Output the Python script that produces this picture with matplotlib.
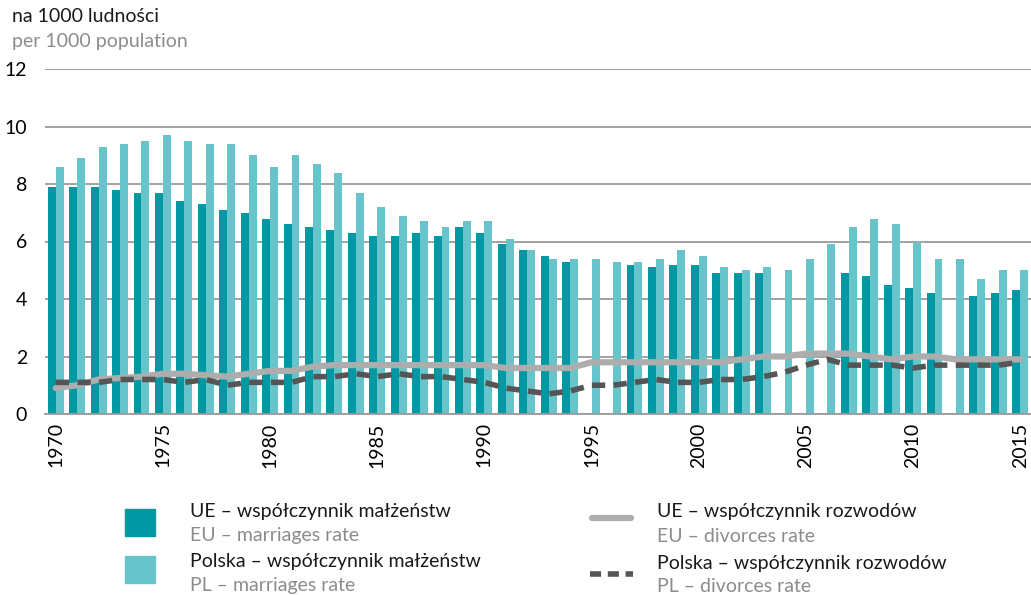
import numpy as np
import matplotlib.pyplot as plt
from matplotlib.patches import Rectangle
from matplotlib.lines import Line2D

plt.rcParams['font.family'] = ['Lato', 'DejaVu Sans']

years = list(range(1970, 2016))
nan = np.nan

# współczynnik małżeństw (na 1000 ludności)
eu_marriages = [7.9, 7.9, 7.9, 7.8, 7.7, 7.7, 7.4, 7.3, 7.1, 7.0,
                6.8, 6.6, 6.5, 6.4, 6.3, 6.2, 6.2, 6.3, 6.2, 6.5,
                6.3, 5.9, 5.7, 5.5, 5.3, nan, nan, 5.2, 5.1, 5.2,
                5.2, 4.9, 4.9, 4.9, nan, nan, nan, 4.9, 4.8, 4.5,
                4.4, 4.2, nan, 4.1, 4.2, 4.3]
pl_marriages = [8.6, 8.9, 9.3, 9.4, 9.5, 9.7, 9.5, 9.4, 9.4, 9.0,
                8.6, 9.0, 8.7, 8.4, 7.7, 7.2, 6.9, 6.7, 6.5, 6.7,
                6.7, 6.1, 5.7, 5.4, 5.4, 5.4, 5.3, 5.3, 5.4, 5.7,
                5.5, 5.1, 5.0, 5.1, 5.0, 5.4, 5.9, 6.5, 6.8, 6.6,
                6.0, 5.4, 5.4, 4.7, 5.0, 5.0]

# współczynnik rozwodów
eu_divorces = [0.9, 1.0, 1.2, 1.25, 1.3, 1.4, 1.4, 1.35, 1.3, 1.4,
               1.5, 1.5, 1.65, 1.7, 1.7, 1.7, 1.7, 1.7, 1.7, 1.7,
               1.7, 1.6, 1.6, 1.6, 1.6, 1.8, 1.8, 1.8, 1.8, 1.8,
               1.8, 1.8, 1.9, 2.0, 2.0, 2.1, 2.1, 2.1, 2.0, 1.9,
               2.0, 2.0, 1.9, 1.9, 1.9, 1.9]
pl_divorces = [1.1, 1.1, 1.1, 1.2, 1.2, 1.2, 1.1, 1.2, 1.0, 1.1,
               1.1, 1.1, 1.3, 1.3, 1.4, 1.3, 1.4, 1.3, 1.3, 1.2,
               1.1, 0.9, 0.8, 0.7, 0.8, 1.0, 1.0, 1.1, 1.2, 1.1,
               1.1, 1.2, 1.2, 1.3, 1.45, 1.7, 1.9, 1.7, 1.7, 1.7,
               1.6, 1.7, 1.7, 1.7, 1.7, 1.8]

c_eu = '#0099a3'
c_pl = '#67c4ca'
c_eu_div = '#adadad'
c_pl_div = '#555555'
fs = 14

fig = plt.figure(figsize=(10.31, 5.95), dpi=100)
ax = fig.add_axes([45 / 1031, 1 - 414 / 595, 986 / 1031, 345 / 595])

x = np.arange(len(years))
w = 0.37
ax.bar(x - w / 2, eu_marriages, width=w, color=c_eu, zorder=2)
ax.bar(x + w / 2, pl_marriages, width=w, color=c_pl, zorder=2)
ax.plot(x, eu_divorces, color=c_eu_div, lw=4.5, zorder=3, solid_capstyle='round')
ax.plot(x, pl_divorces, color=c_pl_div, lw=4, dashes=(2.4, 1.5), zorder=4)

ax.set_xlim(-0.5, len(years) - 0.5)
ax.set_ylim(0, 12)
ax.set_yticks(range(0, 13, 2))
ax.grid(axis='y', color='#9a9a9a', lw=1.3, zorder=0)
ax.set_axisbelow(True)
ax.set_xticks(x[::5])
ax.set_xticklabels([str(y) for y in years[::5]], rotation=90, fontsize=fs)
ax.tick_params(axis='x', length=0, pad=6)
ax.tick_params(axis='y', length=0, pad=13, labelsize=fs)
for s in ['top', 'right', 'left']:
    ax.spines[s].set_visible(False)
ax.spines['bottom'].set_color('#9a9a9a')
ax.spines['bottom'].set_linewidth(1.3)

fig.text(12 / 1031, 1 - 17 / 595, 'na 1000 ludności', fontsize=fs, va='center', color='#1a1a1a')
fig.text(12 / 1031, 1 - 42 / 595, 'per 1000 population', fontsize=fs, va='center', color='#8c8c8c')

# legenda
def fx(px):
    return px / 1031

def fy(py):
    return 1 - py / 595

fig.patches.append(Rectangle((fx(125), fy(536)), 30 / 1031, 27 / 595, color=c_eu,
                             transform=fig.transFigure, figure=fig))
fig.patches.append(Rectangle((fx(125), fy(583)), 30 / 1031, 27 / 595, color=c_pl,
                             transform=fig.transFigure, figure=fig))
fig.lines.append(Line2D([fx(592), fx(631)], [fy(518), fy(518)], color=c_eu_div, lw=4.5,
                        solid_capstyle='round', transform=fig.transFigure, figure=fig))
fig.lines.append(Line2D([fx(590), fx(633)], [fy(574), fy(574)], color=c_pl_div, lw=4,
                        dashes=(2.0, 1.2), transform=fig.transFigure, figure=fig))

legend_texts = [
    (190, 512, 'UE – współczynnik małżeństw', '#1a1a1a'),
    (190, 536, 'EU – marriages rate', '#8c8c8c'),
    (190, 561, 'Polska – współczynnik małżeństw', '#1a1a1a'),
    (190, 585, 'PL – marriages rate', '#8c8c8c'),
    (657, 512, 'UE – współczynnik rozwodów', '#1a1a1a'),
    (657, 536, 'EU – divorces rate', '#8c8c8c'),
    (657, 563, 'Polska – współczynnik rozwodów', '#1a1a1a'),
    (657, 587, 'PL – divorces rate', '#8c8c8c'),
]
for px, py, t, c in legend_texts:
    fig.text(fx(px), fy(py), t, fontsize=fs, va='center', color=c)

fig.savefig('out.png', dpi=100)
